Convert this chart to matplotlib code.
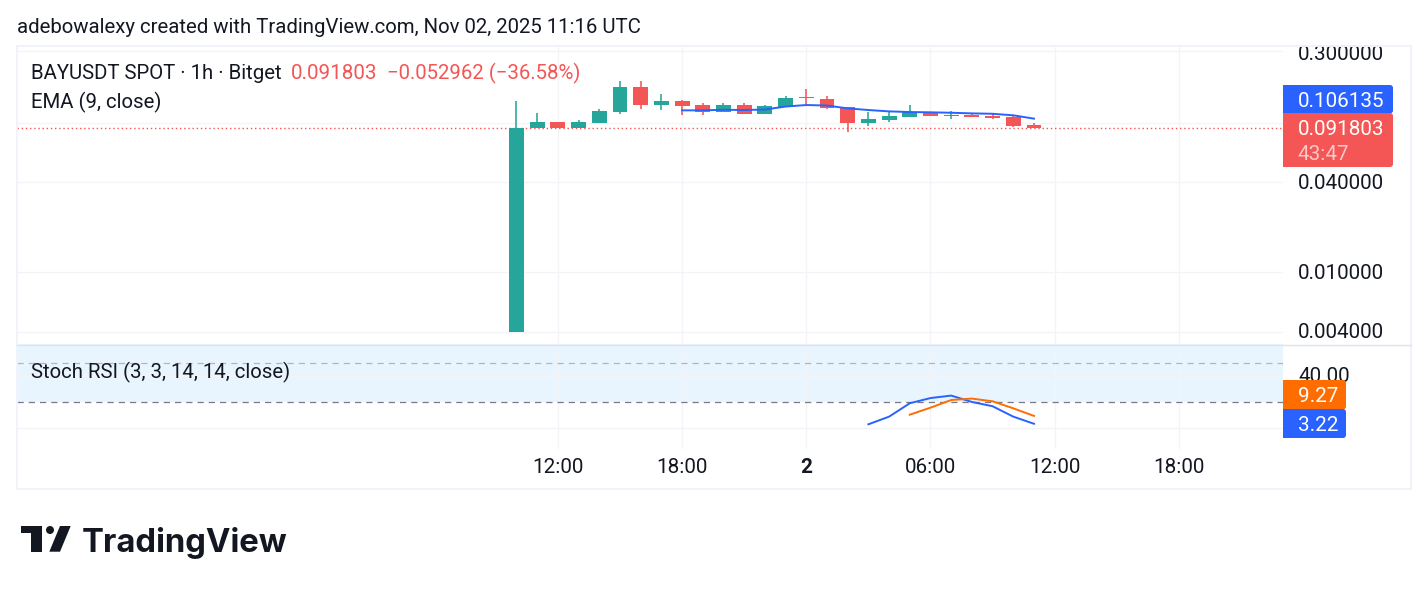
import matplotlib
matplotlib.use("Agg")
import matplotlib.pyplot as plt
from matplotlib.patches import Rectangle, Polygon, Circle, FancyBboxPatch
from matplotlib.ticker import NullLocator, FixedLocator, FixedFormatter
from matplotlib.transforms import ScaledTranslation

plt.rcParams['font.family'] = ['Roboto', 'DejaVu Sans']

W, H = 1428, 591

# hours since Nov 1 10:00
hours = list(range(26))
opens = [.004, .0918, .1007, .0918, .0992, .1175, .1727, .1314, .1391, .1309, .1180, .1309, .1139,
         .1275, .1472, .1435, .1269, .0996, .1039, .1088, .1175, .1108, .1122, .1104, .1088, .0962]
highs = [.1391, .1162, .1007, .1039, .1230, .1893, .1893, .1550, .1413, .1349, .1349, .1349, .1314,
         .1503, .1674, .1503, .1269, .1175, .1175, .1309, .1175, .1186, .1162, .1157, .1122, .0992]
lows = [.004, .0918, .0918, .0918, .0992, .1144, .1236, .1212, .1127, .1127, .1170, .1139, .1139,
        .1275, .1329, .1230, .0867, .0951, .1012, .1088, .1104, .1055, .1088, .1055, .0932, .0918]
closes = [.0918, .1007, .0918, .1007, .1193, .1727, .1314, .1391, .1294, .1180, .1309, .1139, .1288,
          .1458, .1448, .1250, .0996, .1055, .1104, .1175, .1104, .1126, .1088, .1071, .0947, .091803]

ema_hours = list(range(8, 26))
ema = [.1206, .1206, .1217, .1212, .1221, .1279, .1309, .1299, .1243, .1212, .1187, .1175, .1170,
       .1162, .1151, .1144, .1117, .106135]

k_hours = list(range(17, 26))
k_vals = [2.8, 8.7, 19.0, 23.0, 24.9, 20.0, 16.7, 8.7, 3.22]
d_hours = list(range(19, 26))
d_vals = [10.2, 15.6, 21.5, 22.6, 20.5, 15.1, 9.27]

time_ticks = [2, 8, 14, 20, 26, 32]
time_labels = ["12:00", "18:00", "2", "06:00", "12:00", "18:00"]
price_ticks = [0.3, 0.1, 0.04, 0.01, 0.004]
price_labels = ["0.300000", "", "0.040000", "0.010000", "0.004000"]
last_price = 0.091803

GREEN, RED, BLUE, ORANGE = "#26A69A", "#F45555", "#2962FF", "#FF6D00"
GRID = "#F3F4F8"
INK = "#131722"
NUM = 14.85
TXT = 14.68
XLIM = (-24.13, 37.03)

fig = plt.figure(figsize=(W / 100, H / 100), dpi=100, facecolor="white")


def axes_px(x0, y0, x1, y1, **kw):
    return fig.add_axes([x0 / W, 1 - y1 / H, (x1 - x0) / W, (y1 - y0) / H], **kw)


# ---------- price pane
ax = axes_px(17, 46, 1283, 344)
ax.set_yscale("log")
ax.set_ylim(0.0033, 0.3249)
ax.set_xlim(*XLIM)
ax.yaxis.set_major_locator(FixedLocator(price_ticks))
ax.yaxis.set_major_formatter(FixedFormatter(price_labels))
ax.yaxis.set_minor_locator(NullLocator())
ax.yaxis.tick_right()
ax.set_xticks(time_ticks)
ax.tick_params(axis="x", length=0, labelbottom=False)
ax.tick_params(axis="y", length=0, pad=10.8, labelsize=NUM, labelcolor=INK)
ax.grid(True, color=GRID, lw=0.9)
ax.set_axisbelow(True)
for s in ax.spines.values():
    s.set_visible(False)

for h, o, hi, lo, c in zip(hours, opens, highs, lows, closes):
    col = GREEN if c >= o else RED
    ax.vlines(h, lo, hi, color=col, lw=1.15, zorder=2)
    ax.bar(h, abs(c - o), bottom=min(o, c), width=0.72, color=col, linewidth=0, zorder=3)
ax.plot(ema_hours, ema, color=BLUE, lw=1.4, zorder=4)
ax.axhline(last_price, color=RED, lw=1.0, ls=(0, (1, 2)), zorder=1.5)

# ---------- Stoch RSI pane
ax2 = axes_px(17, 344, 1283, 449)
ax2.set_ylim(-16.2, 64.6)
ax2.set_xlim(*XLIM)
ax2.yaxis.tick_right()
ax2.set_yticks([0, 40])
ax2.set_yticklabels(["", "40.00"])
ax2.set_xticks(time_ticks)
ax2.set_xticklabels(time_labels)
ax2.get_xticklabels()[2].set_fontweight("bold")
ax2.tick_params(axis="y", length=0, pad=10.8, labelsize=NUM, labelcolor=INK)
ax2.tick_params(axis="x", length=0, pad=6.8, labelsize=NUM, labelcolor=INK)
ax2.grid(True, color=GRID, lw=0.9)
ax2.set_axisbelow(True)
ax2.axhspan(20, 80, color="#E9F5FE", lw=0, zorder=0.5)
ax2.axhline(50, color="#B2B5BE", lw=0.9, ls=(0, (5, 4)), zorder=1)
ax2.axhline(20, color="#787B86", lw=0.9, ls=(0, (5, 4)), zorder=1)
ax2.plot(k_hours, k_vals, color=BLUE, lw=1.4, zorder=3)
ax2.plot(d_hours, d_vals, color=ORANGE, lw=1.4, zorder=3)
for s in ax2.spines.values():
    s.set_visible(False)

up = ScaledTranslation(0, 1 / 100, fig.dpi_scale_trans)
down = ScaledTranslation(0, -1 / 100, fig.dpi_scale_trans)
for a in (ax, ax2):
    for t in a.get_yticklabels():
        shift = down if t.get_text() == "0.300000" else up
        t.set_transform(t.get_transform() + shift)

# ---------- overlay in pixel coordinates
ov = fig.add_axes([0, 0, 1, 1], facecolor="none", zorder=10)
ov.set_xlim(0, W)
ov.set_ylim(H, 0)
ov.axis("off")

ov.add_patch(Rectangle((17, 46), 1394, 443, fill=False, ec="#F0F3FA", lw=1.4))
ov.plot([17, 1411], [344.5, 344.5], color="#E0E3EB", lw=1.0)


def T(x, y, s, color=INK, size=TXT, **kw):
    ov.text(x, y, s, color=color, fontsize=size, va="center_baseline", ha=kw.pop("ha", "left"), **kw)


T(17, 25.6, "adebowalexy created with TradingView.com, Nov 02, 2025 11:16 UTC")
T(31, 71.5, "BAYUSDT SPOT · 1h · Bitget")
T(291, 71.5, "0.091803", color=RED, size=NUM)
T(387, 71.5, "−0.052962 (−36.58%)", color=RED)
T(31, 100.5, "EMA (9, close)")
T(31, 370.5, "Stoch RSI (3, 3, 14, 14, close)")


def badge(y0, y1, x1, color):
    w = x1 - 1283
    ov.add_patch(FancyBboxPatch((1283, y0), w, y1 - y0, boxstyle="round,pad=0,rounding_size=3",
                                fc=color, ec="none"))
    ov.add_patch(Rectangle((1283, y0), w / 2, y1 - y0, fc=color, ec="none"))


badge(85, 113.5, 1393, BLUE)
badge(113, 167, 1393, RED)
badge(380, 409.5, 1346, ORANGE)
badge(409, 438, 1346, BLUE)
T(1298, 99.5, "0.106135", color="white", size=NUM)
T(1298, 127.5, "0.091803", color="white", size=NUM)
T(1297.5, 152.5, "43:47", color="#FBC9C9", size=NUM)
T(1298, 394.5, "9.27", color="white", size=NUM)
T(1298, 423.5, "3.22", color="white", size=NUM)

# TradingView logo
LOGO = "#131722"
ov.add_patch(Polygon([(20.5, 526), (41.7, 526), (41.7, 551.7), (31, 551.7), (31, 533.3), (20.5, 533.3)],
                     closed=True, fc=LOGO, ec="none"))
ov.add_patch(Circle((50, 530), 4, fc=LOGO, ec="none"))
ov.add_patch(Polygon([(60, 526), (70.7, 526), (60, 551.7), (49.3, 551.7)], closed=True, fc=LOGO, ec="none"))
ov.text(82, 539.5, "TradingView", color=LOGO, fontsize=23.7, fontfamily="Inter", fontweight="bold",
        va="center_baseline", ha="left")

fig.savefig("out.png", dpi=100)
